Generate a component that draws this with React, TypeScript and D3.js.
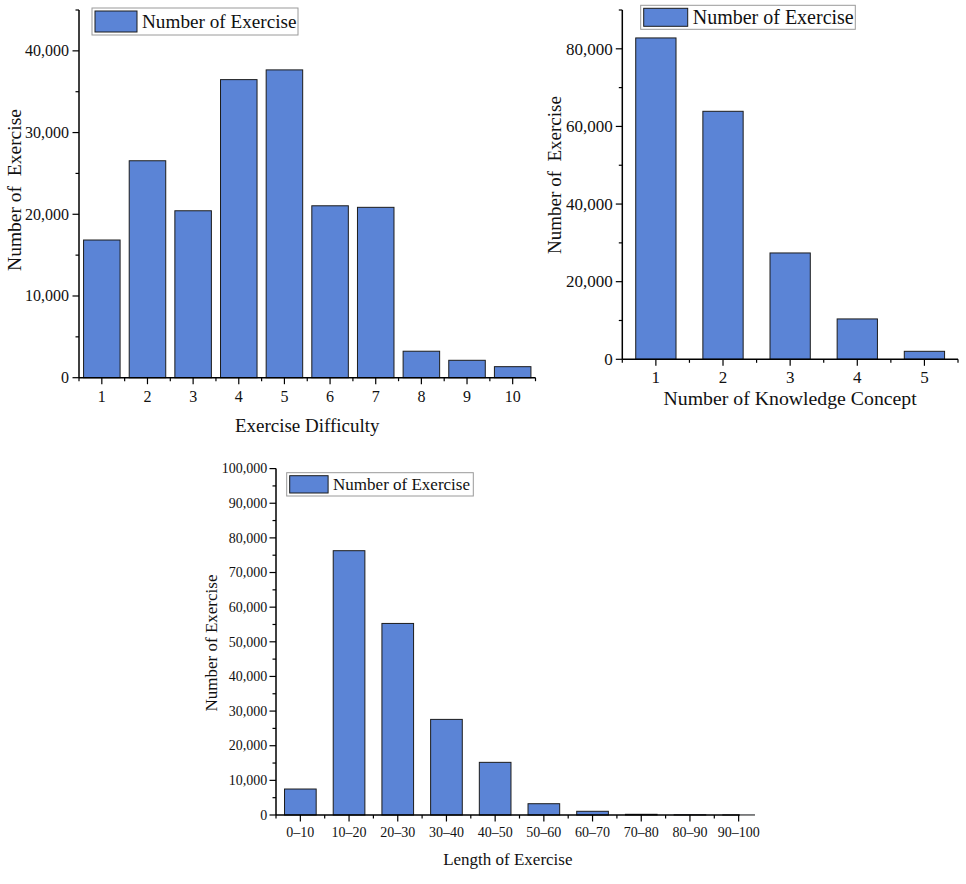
import { useEffect, useRef } from 'react'
import * as d3 from 'd3'

const difficultyLabels = ['1', '2', '3', '4', '5', '6', '7', '8', '9', '10']
const difficultyCounts = [16850, 26550, 20430, 36480, 37670, 21040, 20850, 3240, 2130, 1350]
const difficultyTicks = [0, 10000, 20000, 30000, 40000]

const conceptLabels = ['1', '2', '3', '4', '5']
const conceptCounts = [82800, 63900, 27400, 10400, 2060]
const conceptTicks = [0, 20000, 40000, 60000, 80000]

const lengthLabels = ['0–10', '10–20', '20–30', '30–40', '40–50', '50–60', '60–70', '70–80', '80–90', '90–100']
const lengthCounts = [7500, 76300, 55300, 27600, 15200, 3260, 1070, 200, 60, 20]
const lengthTicks = [0, 10000, 20000, 30000, 40000, 50000, 60000, 70000, 80000, 90000, 100000]

const FONT = '"Liberation Serif", "Times New Roman", serif'
const BAR_FILL = '#5b84d6'
const BAR_STROKE = '#1c1c1c'

interface Panel {
  labels: string[]
  counts: number[]
  ticks: number[]
  minorStep: number
  yMax: number
  left: number
  right: number
  top: number
  bottom: number
  axisEnd: number
  pad: number
  tickFont: number
  tickGap: number
  tickBaseline: number
  xTitle: string
  xTitleY: number
  xTitleFont: number
  yTitle: string
  yTitleX: number
  yTitleY: number
  yTitleFont: number
  legend: { x: number; y: number; w: number; h: number; sw: number; font: number }
}

const panels: Panel[] = [
  {
    labels: difficultyLabels,
    counts: difficultyCounts,
    ticks: difficultyTicks,
    minorStep: 5000,
    yMax: 45000,
    left: 79,
    right: 535.5,
    top: 10,
    bottom: 377.7,
    axisEnd: 535.5,
    pad: 0.2,
    tickFont: 16,
    tickGap: 10,
    tickBaseline: 402,
    xTitle: 'Exercise Difficulty',
    xTitleY: 431.5,
    xTitleFont: 19,
    yTitle: 'Number of  Exercise',
    yTitleX: 21,
    yTitleY: 190,
    yTitleFont: 19.5,
    legend: { x: 92, y: 8, w: 206, h: 27, sw: 42, font: 19.2 },
  },
  {
    labels: conceptLabels,
    counts: conceptCounts,
    ticks: conceptTicks,
    minorStep: 10000,
    yMax: 90000,
    left: 622.3,
    right: 958,
    top: 10,
    bottom: 359.3,
    axisEnd: 958,
    pad: 0.4,
    tickFont: 17,
    tickGap: 9.6,
    tickBaseline: 382.5,
    xTitle: 'Number of Knowledge Concept',
    xTitleY: 404.5,
    xTitleFont: 19.8,
    yTitle: 'Number of  Exercise',
    yTitleX: 561,
    yTitleY: 175,
    yTitleFont: 19,
    legend: { x: 640.7, y: 5.3, w: 214.6, h: 24, sw: 44, font: 20 },
  },
  {
    labels: lengthLabels,
    counts: lengthCounts,
    ticks: lengthTicks,
    minorStep: 5000,
    yMax: 100000,
    left: 276,
    right: 276 + 10 * 48.7,
    top: 468.6,
    bottom: 815,
    axisEnd: 739.7,
    pad: 0.35,
    tickFont: 14,
    tickGap: 8.7,
    tickBaseline: 836.5,
    xTitle: 'Length of Exercise',
    xTitleY: 864.5,
    xTitleFont: 17,
    yTitle: 'Number of Exercise',
    yTitleX: 217,
    yTitleY: 643,
    yTitleFont: 17,
    legend: { x: 286.7, y: 472.7, w: 186.6, h: 23.3, sw: 38.4, font: 17 },
  },
]

export default function App() {
  const svgRef = useRef<SVGSVGElement>(null)

  useEffect(() => {
    if (!svgRef.current) return
    const svg = d3.select(svgRef.current)
    svg.selectAll('*').remove()

    panels.forEach((p) => {
      const g = svg.append('g').attr('font-family', FONT).attr('fill', '#111')

      const x = d3
        .scaleBand<string>()
        .domain(p.labels)
        .range([p.left, p.right])
        .paddingInner(p.pad)
        .paddingOuter(p.pad / 2)

      const y = d3.scaleLinear().domain([0, p.yMax]).range([p.bottom, p.top])

      // Bars
      g.selectAll('.bar')
        .data(p.counts)
        .enter()
        .append('rect')
        .attr('x', (_, i) => x(p.labels[i]) as number)
        .attr('y', (d) => y(d))
        .attr('width', x.bandwidth())
        .attr('height', (d) => p.bottom - y(d))
        .attr('fill', BAR_FILL)
        .attr('stroke', BAR_STROKE)
        .attr('stroke-width', 1)

      // Y axis line + ticks
      g.append('line')
        .attr('x1', p.left)
        .attr('x2', p.left)
        .attr('y1', y(p.yMax))
        .attr('y2', p.bottom)
        .attr('stroke', '#000')
        .attr('stroke-width', 1.5)

      const minor = d3.range(0, p.yMax + 1, p.minorStep).filter((v) => !p.ticks.includes(v))
      g.selectAll('.minorY')
        .data(minor)
        .enter()
        .append('line')
        .attr('x1', p.left - 3.5)
        .attr('x2', p.left)
        .attr('y1', (d) => y(d))
        .attr('y2', (d) => y(d))
        .attr('stroke', '#000')
        .attr('stroke-width', 1.2)

      g.selectAll('.majorY')
        .data(p.ticks)
        .enter()
        .append('line')
        .attr('x1', p.left - 6.5)
        .attr('x2', p.left)
        .attr('y1', (d) => y(d))
        .attr('y2', (d) => y(d))
        .attr('stroke', '#000')
        .attr('stroke-width', 1.2)

      g.selectAll('.labelY')
        .data(p.ticks)
        .enter()
        .append('text')
        .attr('x', p.left - p.tickGap)
        .attr('y', (d) => y(d) + p.tickFont * 0.34)
        .attr('text-anchor', 'end')
        .attr('font-size', p.tickFont)
        .text((d) => d3.format(',')(d))

      // X axis line + ticks
      g.append('line')
        .attr('x1', p.left)
        .attr('x2', p.axisEnd)
        .attr('y1', p.bottom)
        .attr('y2', p.bottom)
        .attr('stroke', '#000')
        .attr('stroke-width', 1.5)

      const step = x.step()
      const bounds = d3
        .range(p.labels.length + 1)
        .map((i) => p.left + i * step)
        .filter((v) => v <= p.axisEnd + 0.5)
      g.selectAll('.minorX')
        .data(bounds)
        .enter()
        .append('line')
        .attr('x1', (d) => d)
        .attr('x2', (d) => d)
        .attr('y1', p.bottom)
        .attr('y2', p.bottom + 3.5)
        .attr('stroke', '#000')
        .attr('stroke-width', 1.2)

      g.selectAll('.majorX')
        .data(p.labels)
        .enter()
        .append('line')
        .attr('x1', (d) => (x(d) as number) + x.bandwidth() / 2)
        .attr('x2', (d) => (x(d) as number) + x.bandwidth() / 2)
        .attr('y1', p.bottom)
        .attr('y2', p.bottom + 6.5)
        .attr('stroke', '#000')
        .attr('stroke-width', 1.2)

      g.selectAll('.labelX')
        .data(p.labels)
        .enter()
        .append('text')
        .attr('x', (d) => (x(d) as number) + x.bandwidth() / 2)
        .attr('y', p.tickBaseline)
        .attr('text-anchor', 'middle')
        .attr('font-size', p.tickFont)
        .text((d) => d)

      // Axis titles
      g.append('text')
        .attr('x', (p.left + p.axisEnd) / 2)
        .attr('y', p.xTitleY)
        .attr('text-anchor', 'middle')
        .attr('font-size', p.xTitleFont)
        .text(p.xTitle)

      g.append('text')
        .attr('transform', `translate(${p.yTitleX},${p.yTitleY}) rotate(-90)`)
        .attr('text-anchor', 'middle')
        .attr('font-size', p.yTitleFont)
        .style('white-space', 'pre')
        .text(p.yTitle)

      // Legend
      const L = p.legend
      g.append('rect')
        .attr('x', L.x)
        .attr('y', L.y)
        .attr('width', L.w)
        .attr('height', L.h)
        .attr('fill', '#fff')
        .attr('stroke', '#9a9a9a')
        .attr('stroke-width', 1)
      g.append('rect')
        .attr('x', L.x + 3)
        .attr('y', L.y + 3)
        .attr('width', L.sw)
        .attr('height', L.h - 6)
        .attr('fill', BAR_FILL)
        .attr('stroke', BAR_STROKE)
        .attr('stroke-width', 1)
      g.append('text')
        .attr('x', L.x + 3 + L.sw + 5)
        .attr('y', L.y + L.h / 2 + L.font * 0.34)
        .attr('font-size', L.font)
        .text('Number of Exercise')
    })
  }, [])

  return (
    <div style={{ position: 'absolute', left: 0, top: 0, background: '#fff' }}>
      <svg ref={svgRef} width={966} height={884}></svg>
    </div>
  )
}
